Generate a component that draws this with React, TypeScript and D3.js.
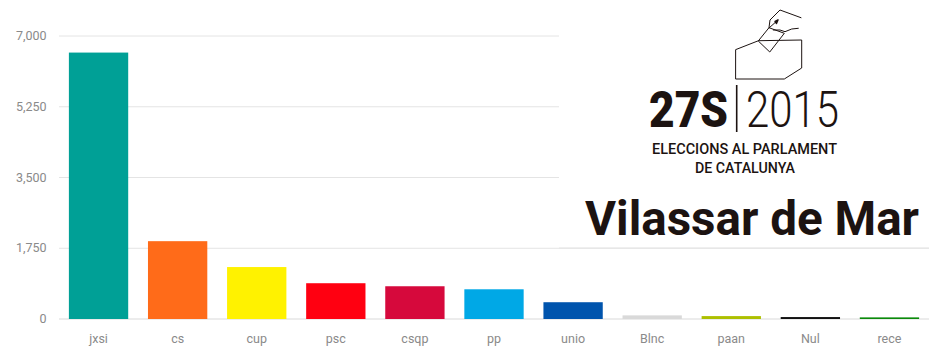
import React from "react";
import * as d3 from "d3";

const categories = ["jxsi", "cs", "cup", "psc", "csqp", "pp", "unio", "Blnc", "paan", "Nul", "rece"];
const votes = [6590, 1925, 1285, 885, 810, 735, 415, 90, 72, 48, 40];
const barColors = ["#00a096", "#ff6b19", "#fff200", "#ff0011", "#d6093c", "#00a8e6", "#0054ad", "#d9d9d9", "#adc000", "#111111", "#0a8a0a"];
const tickValues = [0, 1750, 3500, 5250, 7000];
const logoYear = "2015";
const logoTag = "27S";
const logoLines = ["ELECCIONS AL PARLAMENT", "DE CATALUNYA"];
const title = "Vilassar de Mar";

export default function App() {
  const x = d3.scaleBand<string>().domain(categories).range([59, 929]).paddingInner(0.25).paddingOuter(0.125);
  const y = d3.scaleLinear().domain([0, 7000]).range([319, 36]);
  const fmt = d3.format(",");
  const ink = "#1c1311";
  return (
    <svg width={944} height={353} style={{ position: "absolute", left: 0, top: 0, background: "#fff", fontFamily: "Roboto, sans-serif" }}>
      {tickValues.map((t) => (
        <g key={t}>
          <line x1={59} x2={929} y1={y(t)} y2={y(t)} stroke={t === 0 ? "#e6e6e6" : "#e4e4e4"} strokeWidth={t === 0 ? 1.5 : 1} />
          <text x={46.5} y={y(t) + 4} textAnchor="end" fontSize={12.5} fill="#8a8a8a">{fmt(t)}</text>
        </g>
      ))}
      {categories.map((c, i) => (
        <g key={c}>
          <rect x={x(c)} y={y(votes[i])} width={x.bandwidth()} height={319 - y(votes[i])} fill={barColors[i]} />
          <text x={x(c)! + x.bandwidth() / 2} y={343} textAnchor="middle" fontSize={12.5} fill="#8a8a8a">{c}</text>
        </g>
      ))}
      <rect x={559} y={0} width={385} height={244} fill="#fff" />
      <g fill="none" stroke={ink} strokeWidth={1} strokeLinejoin="round" strokeLinecap="round">
        <path d="M736,49.5 L758.5,40.7 L801.7,40 L801.7,68 L784.3,79 L736,79 Z" />
        <path d="M758.5,40.7 L769,27.7 L784.3,33.3 L770,51.7 Z" />
        <path d="M769,27.7 L770,20 L780,10 L801,17.7" />
        <path d="M773.3,30 L780,30 L785,31.7 L791.7,29 L798.3,28.3" />
        <path d="M769,28 L778,20" strokeWidth={1} />
        <path d="M775,21.5 L778,20 L776.5,23.5 Z" strokeWidth={1.4} />
      </g>
      <text x={649} y={126.7} fontSize={50.5} fontWeight={900} fill={ink} style={{ fontFamily: "Roboto" }} textLength={79} lengthAdjust="spacingAndGlyphs">{logoTag}</text>
      <line x1={736.7} x2={736.7} y1={85} y2={132} stroke={ink} strokeWidth={1.6} />
      <text x={746} y={126.7} fontSize={50.5} fontWeight={300} fill={ink} style={{ fontFamily: "Roboto" }} textLength={93} lengthAdjust="spacingAndGlyphs">{logoYear}</text>
      <text x={744.5} y={154} textAnchor="middle" fontSize={14} fontWeight={500} fill={ink} textLength={185} lengthAdjust="spacingAndGlyphs">{logoLines[0]}</text>
      <text x={745} y={173} textAnchor="middle" fontSize={14} fontWeight={500} fill={ink} textLength={100} lengthAdjust="spacingAndGlyphs">{logoLines[1]}</text>
      <text x={585} y={235} fontSize={48} fontWeight={700} fill={ink} textLength={334} lengthAdjust="spacingAndGlyphs">{title}</text>
      <line x1={559} x2={929} y1={248} y2={248} stroke="#e4e4e4" />
    </svg>
  );
}
